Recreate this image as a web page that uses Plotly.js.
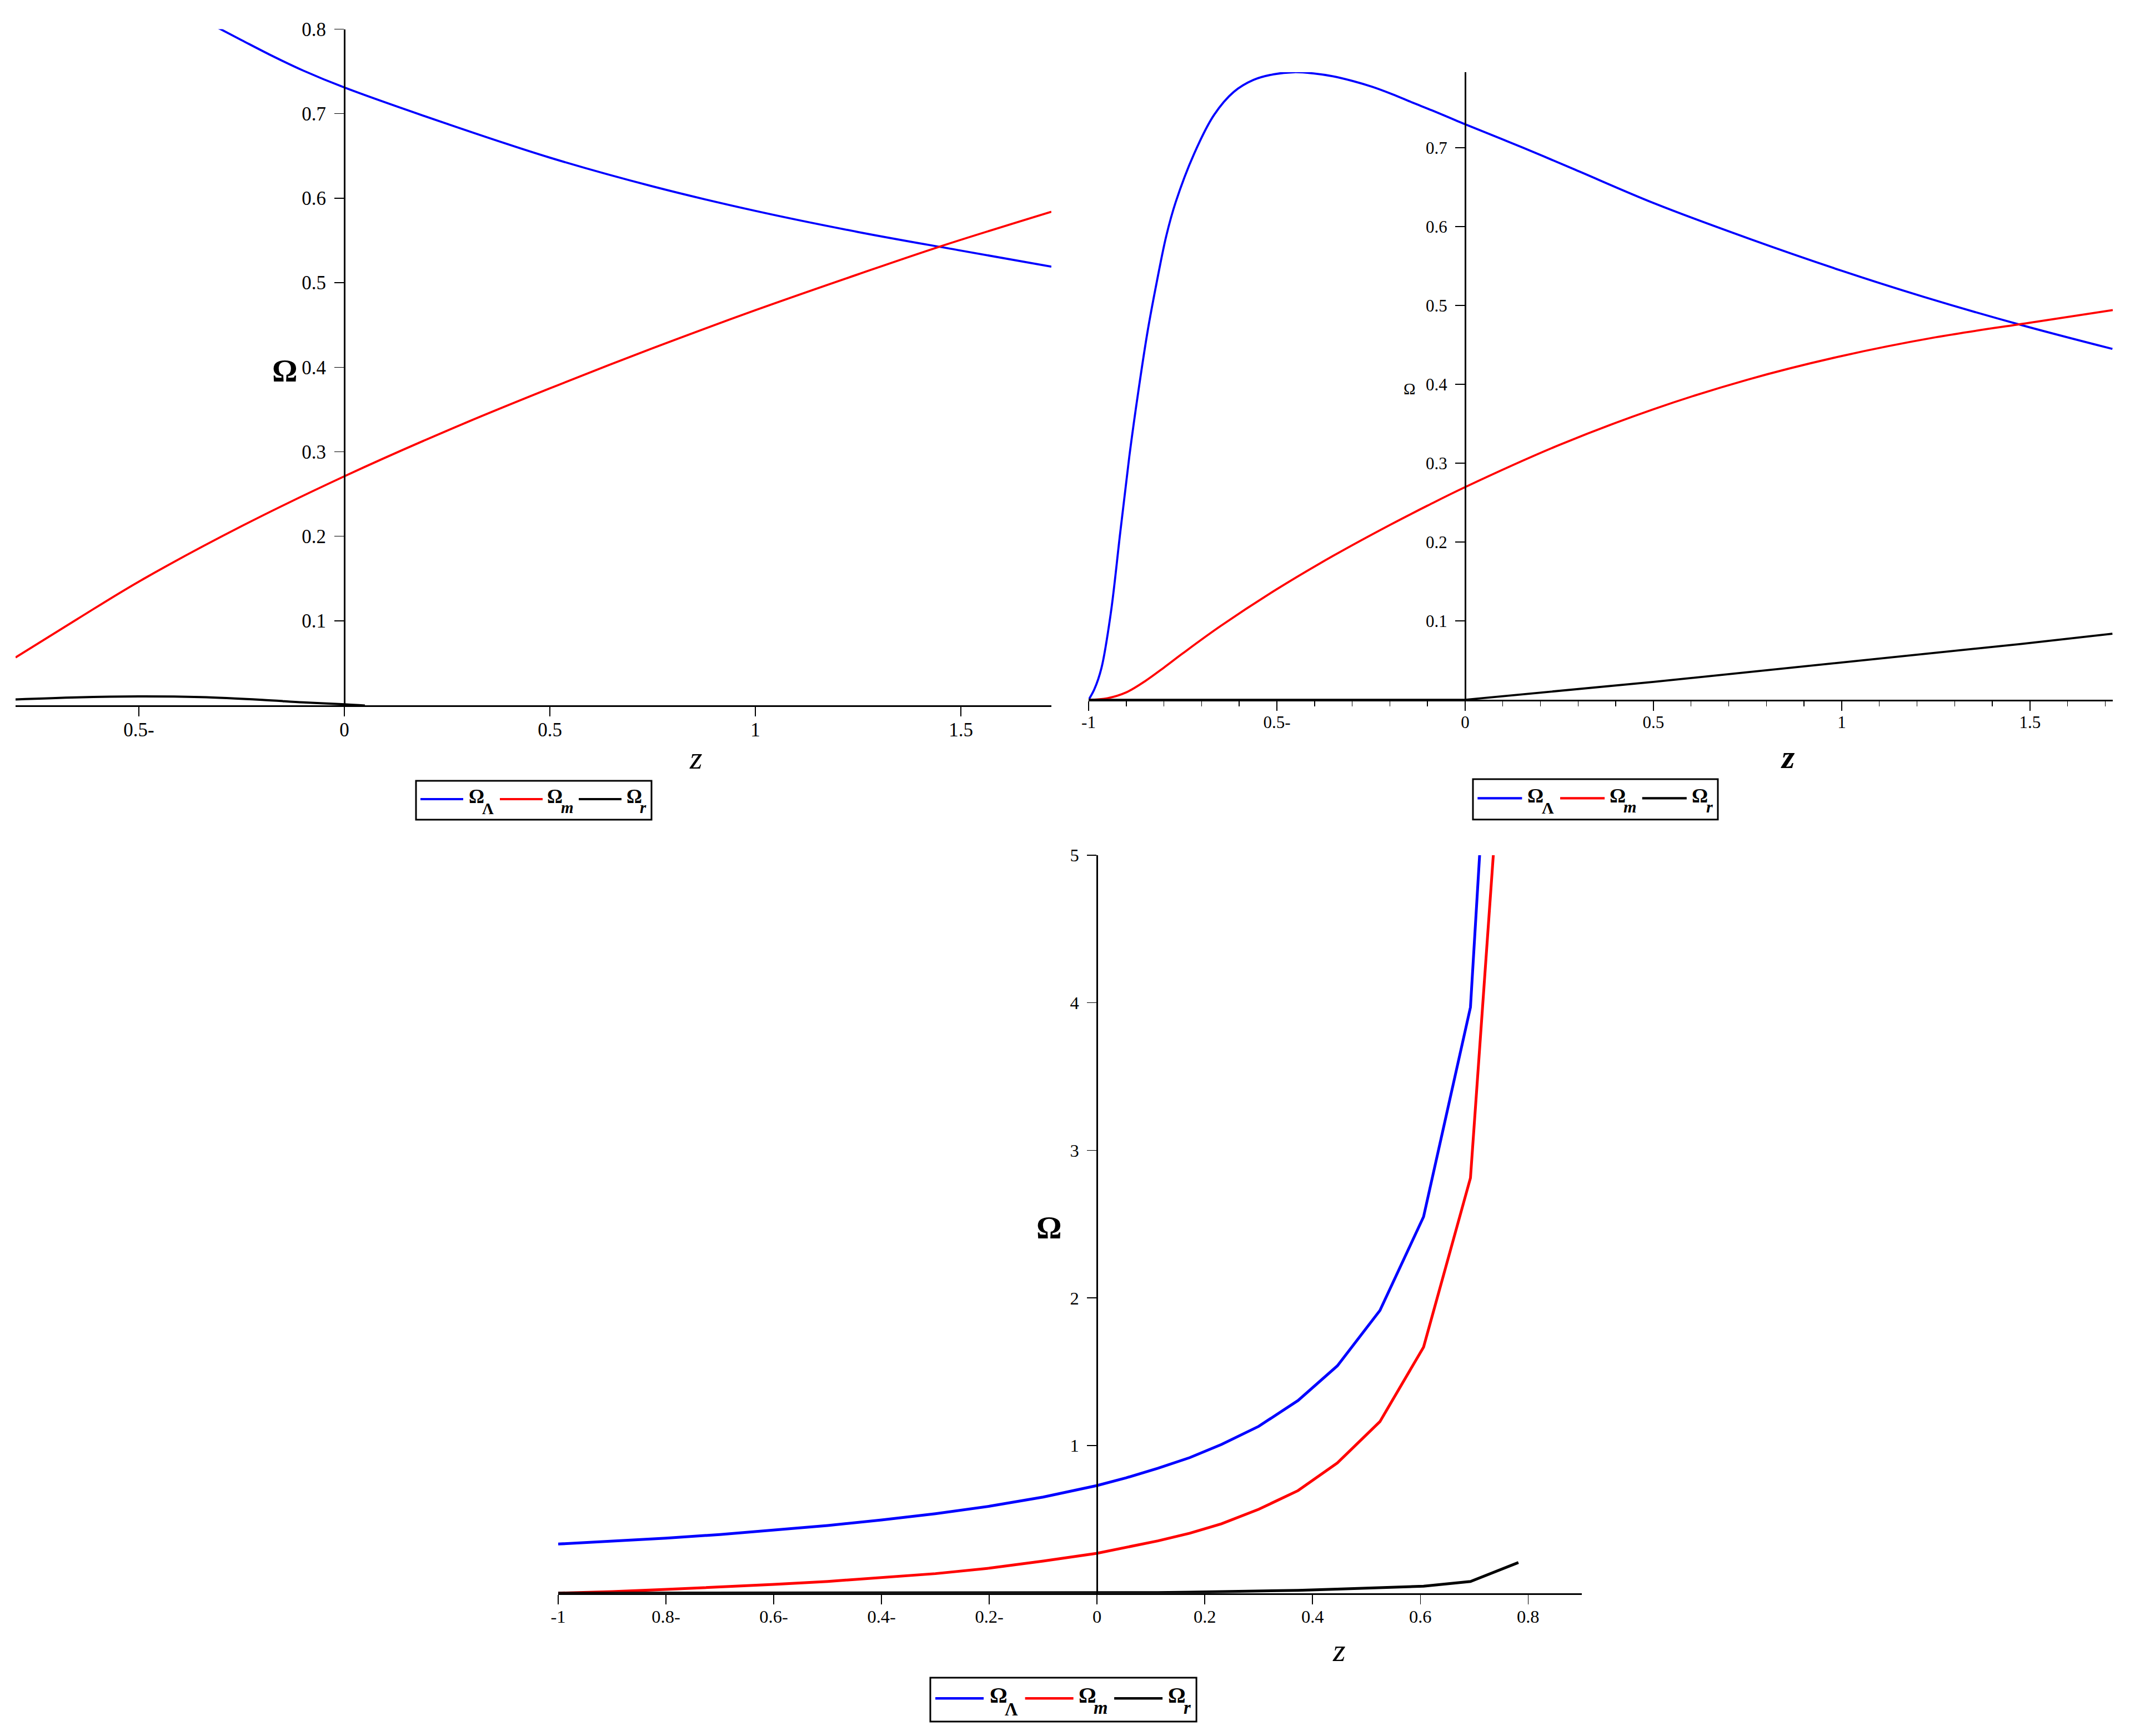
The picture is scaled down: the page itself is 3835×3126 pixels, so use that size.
<!DOCTYPE html>
<html><head><meta charset="utf-8">
<script src="https://cdn.plot.ly/plotly-3.0.1.min.js"></script>
<style>
html,body{margin:0;padding:0;background:#fff;overflow:hidden;width:3835px;height:3126px}
#chart{position:absolute;left:0;top:0;width:3835px;height:3126px}
</style>
</head><body><div id="chart"></div>
<script>
// ---------- top-left panel ----------
const tlZLambda = [-0.319, -0.25, -0.178, -0.1, 0, 0.25, 0.5, 0.75, 1.0, 1.25, 1.5, 1.72];
const tlLambda  = [0.8045, 0.787, 0.769, 0.751, 0.731, 0.688, 0.648, 0.614, 0.585, 0.560, 0.538, 0.519];
const tlZMatter = [-0.8, -0.65, -0.5, -0.25, 0, 0.25, 0.5, 0.75, 1.0, 1.25, 1.45, 1.72];
const tlMatter  = [0.0566, 0.102, 0.1464, 0.212, 0.271, 0.325, 0.375, 0.4225, 0.4675, 0.510, 0.543, 0.584];
const tlZRad    = [-0.8, -0.65, -0.5, -0.35, -0.2, -0.1, 0, 0.05];
const tlRad     = [0.0070, 0.0095, 0.0105, 0.0097, 0.0065, 0.0035, 0.0012, -0.0003];
const tlXTickVals = [-0.5, 0, 0.5, 1, 1.5];
const tlXTickText = ['0.5-', '0', '0.5', '1', '1.5'];
const tlYTickVals = [0.1, 0.2, 0.3, 0.4, 0.5, 0.6, 0.7, 0.8];

// ---------- top-right panel ----------
const trZLambda = [-1, -0.985, -0.966, -0.941, -0.916, -0.892, -0.867, -0.843, -0.818, -0.794, -0.769, -0.720, -0.667, -0.6145, -0.5618, -0.5092, -0.4538, -0.4038, -0.3512, -0.2985, -0.2458, -0.1932, -0.1405, -0.0879, -0.0352, 0, 0.153, 0.292, 0.501, 0.756, 1.0, 1.22, 1.476, 1.719];
const trLambda  = [0, 0.013, 0.040, 0.110, 0.212, 0.308, 0.394, 0.468, 0.532, 0.5875, 0.6305, 0.692, 0.7413, 0.7706, 0.7859, 0.7929, 0.7956, 0.7941, 0.7904, 0.7844, 0.7769, 0.7676, 0.7572, 0.7472, 0.7366, 0.7296, 0.700, 0.672, 0.6296, 0.5842, 0.5439, 0.5105, 0.4752, 0.4448];
const trZMatter = [-1, -0.95, -0.9, -0.85, -0.8, -0.75, -0.65, -0.5, -0.35, -0.2, -0.1, 0, 0.25, 0.5, 0.75, 1.0, 1.25, 1.5, 1.72];
const trMatter  = [0, 0.002, 0.0094, 0.0236, 0.0408, 0.0588, 0.0933, 0.1402, 0.1826, 0.2216, 0.2461, 0.2696, 0.323, 0.3683, 0.4058, 0.4358, 0.4596, 0.478, 0.494];
const trZRad    = [-1, -0.5, 0, 0.5, 1.0, 1.476, 1.719];
const trRad     = [0, 0, 0, 0.0227, 0.0475, 0.0708, 0.0837];
const trXTickVals = [-1, -0.5, 0, 0.5, 1, 1.5];
const trXTickText = ['-1', '0.5-', '0', '0.5', '1', '1.5'];
const trXMinorVals = [-0.9, -0.8, -0.7, -0.6, -0.4, -0.3, -0.2, -0.1, 0.1, 0.2, 0.3, 0.4, 0.6, 0.7, 0.8, 0.9, 1.1, 1.2, 1.3, 1.4, 1.6, 1.7];
const trYTickVals = [0.1, 0.2, 0.3, 0.4, 0.5, 0.6, 0.7];

// ---------- bottom panel ----------
const btZLambda = [-1, -0.9, -0.8, -0.7, -0.6, -0.5, -0.4, -0.3, -0.2, -0.1, 0, 0.054, 0.113, 0.172, 0.231, 0.300, 0.373, 0.446, 0.525, 0.606, 0.693, 0.7105];
const btLambda  = [0.3325, 0.351, 0.3726, 0.397, 0.4253, 0.458, 0.4956, 0.538, 0.5885, 0.651, 0.729, 0.781, 0.846, 0.918, 1.007, 1.130, 1.305, 1.540, 1.915, 2.550, 3.970, 5.03];
const btZMatter = [-1, -0.9, -0.8, -0.7, -0.6, -0.5, -0.4, -0.3, -0.2, -0.1, 0, 0.054, 0.113, 0.172, 0.231, 0.300, 0.373, 0.446, 0.525, 0.606, 0.693, 0.736];
const btMatter  = [0, 0.010, 0.025, 0.041, 0.059, 0.079, 0.104, 0.132, 0.169, 0.217, 0.270, 0.309, 0.354, 0.406, 0.470, 0.568, 0.6945, 0.882, 1.162, 1.667, 2.813, 5.03];
const btZRad    = [-1, 0, 0.054, 0.113, 0.172, 0.231, 0.300, 0.373, 0.446, 0.525, 0.606, 0.693, 0.782];
const btRad     = [0, 0, 0.002, 0.004, 0.006, 0.009, 0.013, 0.019, 0.027, 0.035, 0.047, 0.079, 0.2075];
const btXTickVals = [-1, -0.8, -0.6, -0.4, -0.2, 0, 0.2, 0.4, 0.6, 0.8];
const btXTickText = ['-1', '0.8-', '0.6-', '0.4-', '0.2-', '0', '0.2', '0.4', '0.6', '0.8'];
const btYTickVals = [1, 2, 3, 4, 5];

// ---------- legend texts ----------
const seriesSymbol = 'Ω';
const seriesSubs = ['Λ', 'm', 'r'];
const seriesSubItalic = [false, true, true];
const seriesNames = ['Ω_Λ', 'Ω_m', 'Ω_r'];
const seriesColors = ['#0000ff', '#ff0000', '#000000'];

const FONT = 'Liberation Serif, Times New Roman, serif';
const W = 3835, H = 3126;
const px = v => v / W;
const py = v => 1 - v / H;

function tr(x, y, i, xa, ya, w, shape) {
  return {type: 'scatter', mode: 'lines', x: x, y: y, name: seriesNames[i],
    xaxis: xa, yaxis: ya, showlegend: false,
    line: {color: seriesColors[i], width: w, shape: shape}, hoverinfo: 'skip'};
}

const data = [
  tr(tlZLambda, tlLambda, 0, 'x', 'y', 3.75, 'spline'),
  tr(tlZMatter, tlMatter, 1, 'x', 'y', 3.75, 'spline'),
  tr(tlZRad, tlRad, 2, 'x', 'y', 4, 'spline'),
  tr(trZLambda, trLambda, 0, 'x2', 'y2', 3.75, 'spline'),
  tr(trZMatter, trMatter, 1, 'x2', 'y2', 3.75, 'spline'),
  tr(trZRad, trRad, 2, 'x2', 'y2', 3.75, 'linear'),
  tr(btZLambda, btLambda, 0, 'x3', 'y3', 5, 'linear'),
  tr(btZMatter, btMatter, 1, 'x3', 'y3', 5, 'linear'),
  tr(btZRad, btRad, 2, 'x3', 'y3', 5, 'linear')
];

function ax(extra, fs) {
  return Object.assign({showline: true, linecolor: '#000', linewidth: 3, ticks: 'outside',
    ticklen: 17, tickwidth: 1.5, tickcolor: '#000', showgrid: false, zeroline: false,
    fixedrange: true, tickfont: {family: FONT, size: fs, color: '#000'}}, extra);
}

function lab(x, y, text, size, weight, style) {
  return {xref: 'paper', yref: 'paper', x: x, y: y, xanchor: 'center', yanchor: 'middle',
    showarrow: false, text: text, font: {family: FONT, size: size, color: '#000', weight: weight, style: style}};
}

const shapes = [];
const annotations = [
  lab(px(513), py(667), 'Ω', 57, 'bold', 'normal'),
  lab(px(1253), py(1364), 'z', 58, 'normal', 'italic'),
  lab(px(2538), py(700), 'Ω', 29, 'normal', 'normal'),
  lab(px(3219), py(1363), 'z', 60, 'bold', 'italic'),
  lab(px(1889), py(2210), 'Ω', 57, 'bold', 'normal'),
  lab(px(2411), py(2971), 'z', 58, 'normal', 'italic')
];

// legend box drawn from a template measured on the top-left legend (scale s)
function addLegend(bx, by, s) {
  const BW = 424, BH = 70;
  const lineX = [8, 151, 293], omegaX = [108.5, 250, 392.7], subX = [129.5, 272, 409.3];
  shapes.push({type: 'rect', xref: 'paper', yref: 'paper', x0: px(bx), x1: px(bx + BW * s),
    y0: py(by), y1: py(by + BH * s), line: {color: '#000', width: 3}, fillcolor: '#fff', layer: 'above'});
  for (let i = 0; i < 3; i++) {
    shapes.push({type: 'line', xref: 'paper', yref: 'paper',
      x0: px(bx + lineX[i] * s), x1: px(bx + (lineX[i] + 77) * s),
      y0: py(by + 33 * s), y1: py(by + 33 * s),
      line: {color: seriesColors[i], width: 4 * s}, layer: 'above'});
    annotations.push(lab(px(bx + omegaX[i] * s), py(by + 28.5 * s), seriesSymbol, 35 * s, 'bold', 'normal'));
    annotations.push(lab(px(bx + subX[i] * s), py(by + (seriesSubItalic[i] ? 48 : 50) * s), seriesSubs[i], 29 * s,
      'bold', seriesSubItalic[i] ? 'italic' : 'normal'));
  }
}
addLegend(749, 1406, 1.0);
addLegend(2652, 1403, 1.04);
addLegend(1675, 3021, 1.13);

const layout = {
  width: W, height: H,
  margin: {l: 0, r: 0, t: 0, b: 0},
  paper_bgcolor: '#fff', plot_bgcolor: 'rgba(0,0,0,0)',
  showlegend: false, hovermode: false,
  xaxis:  ax({domain: [0.0073, 0.4936], range: [-0.8, 1.72], anchor: 'y', tickmode: 'array', tickvals: tlXTickVals, ticktext: tlXTickText, ticklabelstandoff: -6}, 35),
  yaxis:  ax({domain: [0.5937, 0.9832], range: [0, 0.8], anchor: 'free', position: 0.16167, tickmode: 'array', tickvals: tlYTickVals, ticklabelstandoff: 8}, 35),
  xaxis2: ax({domain: [0.51108, 0.99192], range: [-1, 1.72], anchor: 'y2', tickmode: 'array', tickvals: trXTickVals, ticktext: trXTickText, ticklabelstandoff: -6,
              minor: {tickmode: 'array', tickvals: trXMinorVals, ticks: 'outside', ticklen: 8.5, tickwidth: 1.5, tickcolor: '#000', showgrid: false}}, 31),
  yaxis2: ax({domain: [0.5969, 0.95841], range: [0, 0.7956], anchor: 'free', position: 0.68787, tickmode: 'array', tickvals: trYTickVals, ticklabelstandoff: 8}, 31),
  xaxis3: ax({domain: [0.26206, 0.74272], range: [-1, 0.9], anchor: 'y3', tickmode: 'array', tickvals: btXTickVals, ticktext: btXTickText, ticklabelstandoff: -6}, 32.5),
  yaxis3: ax({domain: [0.08231, 0.50736], range: [0, 5], anchor: 'free', position: 0.51507, tickmode: 'array', tickvals: btYTickVals, ticklabelstandoff: 8}, 32.5),
  shapes: shapes,
  annotations: annotations
};

Plotly.newPlot('chart', data, layout, {staticPlot: true, displayModeBar: false});
</script>
</body></html>
